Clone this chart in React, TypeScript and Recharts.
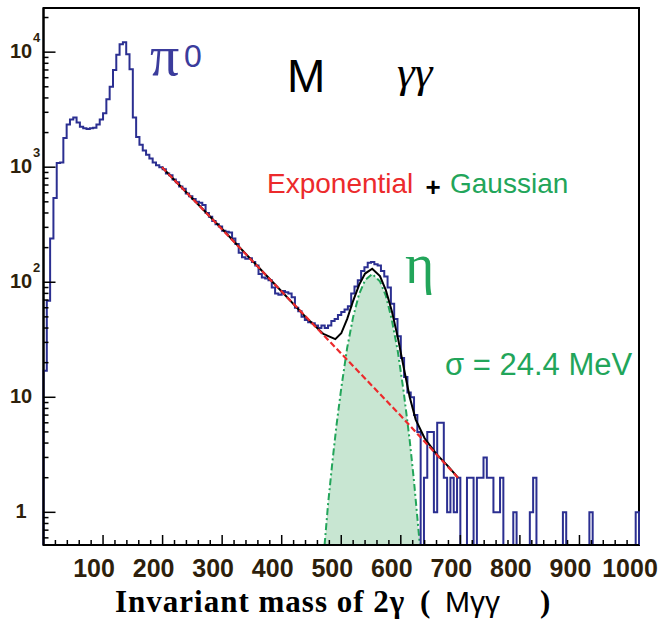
import { ComposedChart, Line, Area, XAxis, YAxis, ReferenceArea } from "recharts";

// histogram: 180 bins over 0..1000 MeV, counts
const X_MIN = 0;
const X_MAX = 1000;

const piZeroCounts = [
  17, 69, 240, 540, 1090, 1100, 1790, 2350, 2600, 2700,
  2450, 2250, 2180, 2150, 2180, 2200, 2350, 2600, 2950, 3900,
  5000, 7000, 9500, 11700, 12200, 9600, 7100, 2700, 1830, 1570,
  1400, 1280, 1190, 1100, 1040,
];

const continuumCounts = [
  1000, 960, 880, 850, 780, 740, 680, 650, 590, 560,
  530, 500, 490, 470, 400, 370, 340, 320, 305, 280,
  275, 270, 240, 215, 180, 165, 160, 162, 150, 140,
  118, 110, 108, 104, 90, 80, 78, 84, 82, 80,
  74, 60, 56, 50, 47,
];

const etaCounts = [
  45, 44, 42, 40, 42, 40, 42, 46, 48, 52,
  55, 58, 62, 80, 92, 104, 125, 135, 148, 150,
  143, 140, 125, 112, 90, 65, 48, 34, 22, 15,
  11, 10, 7,
];

const tailCounts = [
  5, 0, 2, 5, 5, 1, 6, 6, 2, 1,
  2, 1, 2, 0, 0, 2, 2, 0, 2, 2,
  3, 2, 2, 1, 1, 2, 0, 0, 0, 1,
  0, 0, 0, 0, 1, 2, 0, 0, 0, 0,
  0, 0, 0, 0, 1, 0, 0, 0, 0, 0,
  0, 0, 1, 0, 0, 0, 0, 0, 0, 0,
  0, 0, 0, 0, 0, 0, 1,
];

// fitted curves (MeV, counts)
const totalFitX = [199, 250, 300, 350, 400, 440, 470, 490, 500, 510, 520, 530, 540, 552, 565, 575, 585, 595, 605, 615, 625, 640, 660, 680, 696];
const totalFitY = [1000, 535, 290, 155, 83, 50, 35.5, 32, 36, 48, 69, 95, 119, 131, 113, 85, 56, 33, 18, 10, 6.4, 4.4, 3.2, 2.5, 2.0];

const expoX = [199, 300, 400, 500, 600, 696];
const expoY = [1000, 288, 83, 24, 6.9, 2.0];

const gaussX = [472, 478, 485, 492, 500, 510, 520, 530, 540, 552, 565, 575, 585, 595, 605, 615, 622, 632];
const gaussY = [0.52, 1.2, 2.7, 5.7, 12, 27, 50, 79, 104, 118, 102, 76, 47, 25, 11, 4.2, 1.9, 0.52];

const xMajorTicks = [100, 200, 300, 400, 500, 600, 700, 800, 900, 1000];
const X_MINOR_STEP = 20;
const yMajorTicks = [1, 10, 100, 1000, 10000];
const Y_DOMAIN: [number, number] = [0.52, 24200];

const FLOOR = 0.1; // empty bins drop below the axis on a log scale

const counts = [...piZeroCounts, ...continuumCounts, ...etaCounts, ...tailCounts];
const binWidth = (X_MAX - X_MIN) / counts.length;
const lastCount = counts[counts.length - 1];

const histData = [
  { x: X_MIN, y: FLOOR },
  ...counts.map((c, i) => ({ x: X_MIN + i * binWidth, y: c > 0 ? c : FLOOR })),
  { x: X_MAX, y: lastCount > 0 ? lastCount : FLOOR },
  { x: X_MAX, y: FLOOR },
];

const totalFitData = totalFitX.map((x, i) => ({ x, y: totalFitY[i] }));
const expoData = expoX.map((x, i) => ({ x, y: expoY[i] }));
const gaussData = gaussX.map((x, i) => ({ x, y: gaussY[i] }));

const xTicks: number[] = [];
for (let v = X_MIN; v <= X_MAX; v += X_MINOR_STEP) xTicks.push(v);

const yTicks: number[] = [];
for (let d = 0.1; d <= 10000; d *= 10) {
  for (let m = 1; m <= 9; m++) {
    const v = Math.round(d * m * 1000) / 1000;
    if (v >= Y_DOMAIN[0] && v <= Y_DOMAIN[1]) yTicks.push(v);
  }
}

const BLUE = "#2b2f91";
const RED = "#ec2a2c";
const GREEN = "#22a55a";
const LABEL = "#2e1f0c";

// eslint-disable-next-line @typescript-eslint/no-explicit-any
function XTick(props: any) {
  const { x, y, payload } = props;
  const v = payload.value;
  const major = xMajorTicks.includes(v);
  return (
    <g>
      {v > X_MIN && v < X_MAX && (
        <line x1={x} x2={x} y1={y} y2={y - (major ? 10 : 5)} stroke="#000" strokeWidth={1.5} />
      )}
      {major && (
        <text
          x={x - 9}
          y={y + 32}
          textAnchor="middle"
          fontFamily="'Liberation Sans', Arial, sans-serif"
          fontWeight="bold"
          fontSize={25}
          fill={LABEL}
        >
          {v}
        </text>
      )}
    </g>
  );
}

// eslint-disable-next-line @typescript-eslint/no-explicit-any
function YTick(props: any) {
  const { x, y, payload } = props;
  const v = payload.value;
  const exp = Math.round(Math.log10(v));
  const major = yMajorTicks.includes(v);
  return (
    <g>
      <line x1={x} x2={x + (major ? 12 : 5)} y1={y} y2={y} stroke="#000" strokeWidth={1.5} />
      {major && (
        <text
          x={21}
          y={y + 6}
          textAnchor="middle"
          fontFamily="'Liberation Sans', Arial, sans-serif"
          fontWeight="bold"
          fontSize={20}
          fill={LABEL}
        >
          {exp === 0 ? "1" : "10"}
        </text>
      )}
      {major && exp > 1 && (
        <text
          x={33}
          y={y - 10}
          fontFamily="'Liberation Sans', Arial, sans-serif"
          fontWeight="bold"
          fontSize={13}
          fill={LABEL}
        >
          {exp}
        </text>
      )}
    </g>
  );
}

export default function App() {
  return (
    <div style={{ position: "absolute", left: 0, top: 0, width: 669, height: 619, background: "#fff" }}>
      <ComposedChart width={669} height={619} margin={{ top: 8, right: 30, bottom: 0, left: 0 }}>
        <XAxis
          dataKey="x"
          type="number"
          domain={[X_MIN, X_MAX]}
          ticks={xTicks}
          interval={0}
          tickSize={0}
          tickMargin={0}
          tickLine={false}
          tick={XTick}
          height={74}
          axisLine={{ stroke: "#000", strokeWidth: 2 }}
        />
        <YAxis
          dataKey="y"
          scale="log"
          type="number"
          domain={Y_DOMAIN}
          allowDataOverflow
          ticks={yTicks}
          interval={0}
          tickSize={0}
          tickMargin={0}
          tickLine={false}
          tick={YTick}
          width={43.5}
          axisLine={{ stroke: "#000", strokeWidth: 2 }}
        />
        <Area
          data={gaussData}
          dataKey="y"
          type="linear"
          stroke={GREEN}
          strokeWidth={2}
          strokeDasharray="7 3 2 3"
          fill="#c8e6d2"
          fillOpacity={1}
          isAnimationActive={false}
          dot={false}
          activeDot={false}
        />
        <Line
          data={histData}
          dataKey="y"
          type="stepAfter"
          stroke={BLUE}
          strokeWidth={2}
          dot={false}
          activeDot={false}
          isAnimationActive={false}
        />
        <Line
          data={totalFitData}
          dataKey="y"
          type="linear"
          stroke="#000"
          strokeWidth={2}
          dot={false}
          activeDot={false}
          isAnimationActive={false}
        />
        <Line
          data={expoData}
          dataKey="y"
          type="linear"
          stroke={RED}
          strokeWidth={2.2}
          strokeDasharray="6 3"
          dot={false}
          activeDot={false}
          isAnimationActive={false}
        />
        <ReferenceArea
          x1={X_MIN}
          x2={X_MAX}
          y1={Y_DOMAIN[0]}
          y2={Y_DOMAIN[1]}
          fill="none"
          fillOpacity={0}
          stroke="#000"
          strokeWidth={2}
        />
      </ComposedChart>
      <svg
        width={669}
        height={619}
        style={{ position: "absolute", left: 0, top: 0, pointerEvents: "none" }}
      >
        <text x={150} y={75} fontFamily="'Liberation Serif', serif" fontSize={58} fill="#3b3c9c">π</text>
        <text x={184} y={67} fontFamily="'Liberation Sans', sans-serif" fontSize={32} fill="#3b3c9c">0</text>
        <text x={287} y={92} fontFamily="'Liberation Sans', sans-serif" fontSize={46} fill="#000">M</text>
        <text x={397} y={87} fontFamily="'Liberation Serif', serif" fontStyle="italic" fontSize={45} fill="#000">γγ</text>
        <text x={267} y={193} fontFamily="'Liberation Sans', sans-serif" fontSize={28} fill={RED}>Exponential</text>
        <text x={433} y={196} textAnchor="middle" fontFamily="'Liberation Sans', sans-serif" fontWeight="bold" fontSize={26} fill="#000">+</text>
        <text x={450} y={193} fontFamily="'Liberation Sans', sans-serif" fontSize={28} fill={GREEN}>Gaussian</text>
        <text x={405} y={283} fontFamily="'Liberation Serif', serif" fontSize={56} fill={GREEN}>η</text>
        <text x={445} y={375} fontFamily="'Liberation Sans', sans-serif" fontSize={31} fill={GREEN}>σ = 24.4 MeV</text>
        <text
          y={612}
          fontFamily="'Liberation Serif', 'Times New Roman', serif"
          fontWeight="bold"
          fontSize={31}
          fill="#000"
        >
          <tspan x={115} letterSpacing={1}>Invariant mass of 2γ</tspan>
          <tspan x={420}>(</tspan>
          <tspan x={445} fontFamily="'Liberation Sans', sans-serif" fontWeight="normal" fontSize={30}>Mγγ</tspan>
          <tspan x={540}>)</tspan>
        </text>
      </svg>
    </div>
  );
}
